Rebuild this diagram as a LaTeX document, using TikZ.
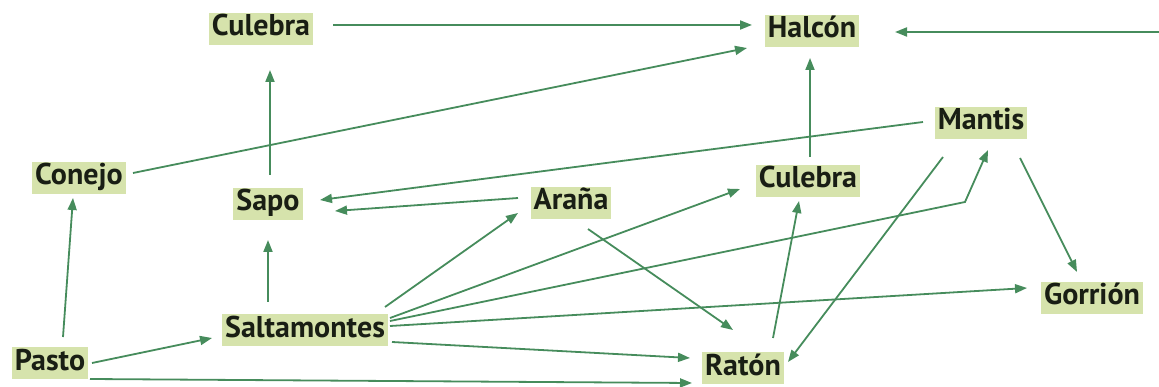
\documentclass[tikz,border=0pt]{standalone}
\usepackage{fontspec}
\setmainfont{PT Sans}
\usetikzlibrary{arrows.meta,calc}
\definecolor{boxfill}{RGB}{214,227,172}
\definecolor{arrowgreen}{RGB}{70,140,92}
\definecolor{textdark}{RGB}{25,30,20}
\tikzset{
  sp/.style={fill=boxfill,text=textdark,font=\bfseries\fontsize{30}{30}\selectfont,
    inner xsep=3pt,inner ysep=2pt,text height=21pt,text depth=7pt,anchor=center},
  arr/.style={draw=arrowgreen,line width=1.8pt,-{Triangle[length=12pt,width=9pt]}}
}
\begin{document}
\begin{tikzpicture}[x=1pt,y=-1pt]
\useasboundingbox (0,0) rectangle (1159,387);
% nodes
\node[sp] (C1) at (261,29) {Culebra};
\node[sp] (H) at (812,31) {Halcón};
\node[sp] (M) at (981,123) {Mantis};
\node[sp] (Co) at (79,178) {Conejo};
\node[sp] (S) at (268,204) {Sapo};
\node[sp] (A) at (571,203) {Araña};
\node[sp] (C2) at (808,181) {Culebra};
\node[sp] (G) at (1092,298) {Gorrión};
\node[sp] (Sa) at (305,330) {Saltamontes};
\node[sp] (P) at (50,363) {Pasto};
\node[sp] (R) at (743,368) {Ratón};
\coordinate (E) at (1159,32);
% arrows
\draw[arr] ($(C1)+(72,-4)$) -- ($(H)+(-60,-6)$);
\draw[arr] ($(Co)+(54,-5)$) -- ($(H)+(-65,17)$);
\draw[arr] (E) -- ($(H)+(83,1)$);
\draw[arr] ($(S)+(2,-29)$) -- ($(C1)+(9,41)$);
\draw[arr] ($(C2)+(2,-24)$) -- ($(H)+(-2,27)$);
\draw[arr] ($(M)+(-58,-1)$) -- ($(S)+(52,-4)$);
\draw[arr] ($(A)+(-53,-5)$) -- ($(S)+(67,7)$);
\draw[arr] ($(P)+(13,-26)$) -- ($(Co)+(-6,20)$);
\draw[arr] ($(Sa)+(-37,-28)$) -- ($(S)+(0,36)$);
\draw[arr] ($(P)+(42,0)$) -- ($(Sa)+(-93,8)$);
\draw[arr] ($(P)+(40,16)$) -- ($(R)+(-51,15)$);
\draw[arr] ($(Sa)+(80,-23)$) -- ($(A)+(-53,10)$);
\draw[arr] ($(Sa)+(85,-12)$) -- ($(C2)+(-68,8)$);
\draw[arr] ($(Sa)+(85,-9)$) -- ($(M)+(-16,79)$) -- ($(M)+(7,27)$);
\draw[arr] ($(Sa)+(85,-4)$) -- ($(G)+(-65,-10)$);
\draw[arr] ($(Sa)+(87,12)$) -- ($(R)+(-53,-10)$);
\draw[arr] ($(A)+(17,26)$) -- ($(R)+(-10,-38)$);
\draw[arr] ($(R)+(30,-30)$) -- ($(C2)+(-9,20)$);
\draw[arr] ($(M)+(-38,34)$) -- ($(R)+(45,-6)$);
\draw[arr] ($(M)+(39,35)$) -- ($(G)+(-15,-26)$);
\end{tikzpicture}
\end{document}
